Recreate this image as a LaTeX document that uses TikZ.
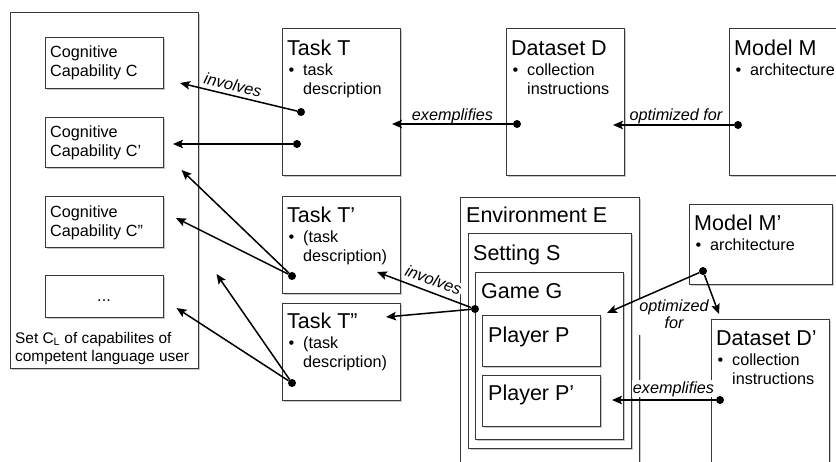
\documentclass[tikz,border=0pt]{standalone}
\usepackage{fontspec}
\setmainfont{Liberation Sans}
\usetikzlibrary{arrows.meta,shadows}
\newcommand\twoline[2]{\begin{tabular}[t]{@{}l@{}}#1\\#2\end{tabular}}
\newcommand\bul[2]{\begin{tabular}[t]{@{}l@{}}\makebox[14.5pt][l]{•}#1\\\hspace*{14.5pt}#2\end{tabular}}
\newcommand\bulone[1]{\makebox[14.5pt][l]{•}#1}
\tikzset{
  box/.style={draw=black!78, line width=1.1pt, fill=white, anchor=north west, inner sep=0pt,
    drop shadow={shadow xshift=1.3pt, shadow yshift=-1.6pt, opacity=0.3, fill=black!70}},
  ttl/.style={anchor=base west, inner sep=0pt, font=\fontsize{21.5}{24}\selectfont},
  body/.style={anchor=base west, inner sep=0pt, font=\fontsize{16.2}{19}\selectfont},
  lbl/.style={anchor=base, inner sep=0.8pt, fill=white, font=\fontsize{16.2}{17.6}\selectfont\itshape},
  dot/.style={circle, fill=black, inner sep=0pt, minimum size=8pt},
  arr/.style={line width=1.5pt, -{Stealth[length=10pt,width=8.5pt,inset=2pt]}},
}
\begin{document}
\begin{tikzpicture}[x=1pt,y=-1pt]
\useasboundingbox (0,0) rectangle (836,461);
\clip (0,0) rectangle (836,461);

% ---------- boxes
\node[box, minimum width=188pt, minimum height=356pt] (CL) at (10,12) {};
\node[box, minimum width=118pt, minimum height=51pt] (C1) at (45,37) {};
\node[box, minimum width=118pt, minimum height=50pt] (C2) at (45,117) {};
\node[box, minimum width=118pt, minimum height=51pt] (C3) at (45,196) {};
\node[box, minimum width=118pt, minimum height=42pt] (C4) at (45,275) {};
\node[box, minimum width=118pt, minimum height=147pt] (T) at (282,28) {};
\node[box, minimum width=118pt, minimum height=147pt] (D) at (506,28) {};
\node[box, minimum width=130pt, minimum height=147pt] (M) at (729,28) {};
\node[box, minimum width=118pt, minimum height=97pt] (T1) at (282,196) {};
\node[box, minimum width=118pt, minimum height=97pt] (T2) at (282,303) {};
\node[box, minimum width=179pt, minimum height=290pt] (E) at (460,197) {};
\node[box, minimum width=163pt, minimum height=215pt] (S) at (468,233) {};
\node[box, minimum width=148pt, minimum height=167pt] (G) at (475,272) {};
\node[box, minimum width=118pt, minimum height=51pt] (P) at (482,315) {};
\node[box, minimum width=118pt, minimum height=51pt] (P1) at (482,375) {};
\node[box, minimum width=143pt, minimum height=80pt] (M1) at (689,204) {};
\node[box, minimum width=118pt, minimum height=170pt] (D1) at (711,319) {};

% ---------- texts
\node[body] (C1t) at (50,57) {\twoline{Cognitive}{Capability C}};
\node[body] (C2t) at (50,137) {\twoline{Cognitive}{Capability C’}};
\node[body] (C3t) at (50,217) {\twoline{Cognitive}{Capability C”}};
\node[body, anchor=base] (C4t) at (104,301) {...};
\node[anchor=base west, inner sep=0pt, font=\fontsize{15.4}{18}\selectfont] (CLt) at (15,343)
  {\twoline{Set C\textsubscript{L} of capabilites of}{competent language user}};

\node[ttl] (Tt) at (287,55) {Task T};
\node[body] (Tb) at (288.5,75) {\bul{task}{description}};
\node[ttl] (Dt) at (511,55) {Dataset D};
\node[body] (Db) at (512.5,75) {\bul{collection}{instructions}};
\node[ttl] (Mt) at (734,55) {Model M};
\node[body] (Mb) at (735.5,75) {\bulone{architecture}};
\node[ttl] (T1t) at (287,222) {Task T’};
\node[body] (T1b) at (288.5,242) {\bul{(task}{description)}};
\node[ttl] (T2t) at (287,328) {Task T”};
\node[body] (T2b) at (288.5,348) {\bul{(task}{description)}};
\node[ttl] (Et) at (466,222) {Environment E};
\node[ttl] (St) at (473,260) {Setting S};
\node[ttl] (Gt) at (481,298) {Game G};
\node[ttl] (Pt) at (488,342) {Player P};
\node[ttl] (P1t) at (488,400) {Player P’};
\node[ttl] (M1t) at (694,230) {Model M’};
\node[body] (M1b) at (695.5,250) {\bulone{architecture}};
\node[ttl] (D1t) at (716,345) {Dataset D’};
\node[body] (D1b) at (717.5,365) {\bul{collection}{instructions}};

% ---------- labels
\node[lbl, rotate=-13.5, fill=none] (L1) at (231.5,90.5) {involves};
\node[lbl] (L2) at (452.5,120) {exemplifies};
\node[lbl] (L3) at (676,120.5) {optimized for};
\node[lbl, rotate=-20.7] (L4) at (431.5,285.5) {involves};
\node[lbl] (L5) at (674,311) {\begin{tabular}[t]{@{}c@{}}optimized\\for\end{tabular}};
\node[lbl] (L6) at (673.5,393) {exemplifies};

% ---------- dots and target points
\node[dot] (dT) at (301,112) {};
\node[dot] (dT') at (297,144) {};
\node[dot] (dD) at (517,124) {};
\node[dot] (dM) at (738,125) {};
\node[dot] (dT1) at (292,276) {};
\node[dot] (dT2) at (292,383) {};
\node[dot] (dG) at (475,309) {};
\node[dot] (dM1) at (703,271) {};
\node[dot] (dD1) at (720,400) {};

\coordinate (aC1) at (180,83);
\coordinate (aC2) at (173,144);
\coordinate (aT) at (392,124);
\coordinate (aD) at (613,125);
\coordinate (aC2b) at (181.5,170);
\coordinate (aC3) at (176,218);
\coordinate (aC4a) at (216.5,274);
\coordinate (aC4b) at (176.5,308);
\coordinate (aT1) at (377,272);
\coordinate (aT2) at (386,317);
\coordinate (aP) at (607,313);
\coordinate (aD1) at (719,314);
\coordinate (aP1) at (612,400);

% ---------- connectors
\draw[arr] (dT) -- (aC1);
\draw[arr] (dT') -- (aC2);
\draw[arr] (dD) -- (aT);
\draw[arr] (dM) -- (aD);
\draw[arr] (dT1) -- (aC2b);
\draw[arr] (dT1) -- (aC3);
\draw[arr] (dT2) -- (aC4a);
\draw[arr] (dT2) -- (aC4b);
\draw[arr] (dG) -- (aT1);
\draw[arr] (dG) -- (aT2);
\draw[arr] (dM1) -- (aP);
\draw[arr] (dM1) -- (aD1);
\draw[arr] (dD1) -- (aP1);
\end{tikzpicture}
\end{document}
